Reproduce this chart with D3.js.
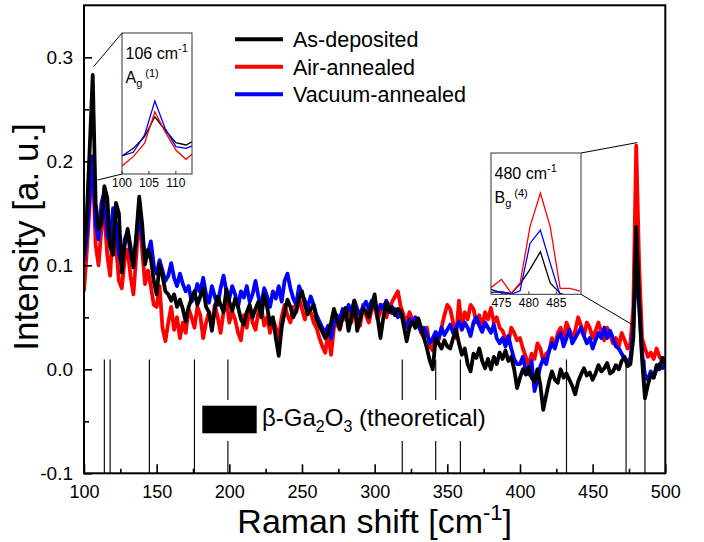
<!DOCTYPE html>
<html>
<head>
<meta charset="utf-8">
<script src="https://cdn.jsdelivr.net/npm/d3@7"></script>
<style>
  html, body { margin: 0; padding: 0; background: #fff; }
  svg { display: block; font-family: "Liberation Sans", Arial, sans-serif; }
</style>
</head>
<body>
<svg id="chart" width="704" height="542"></svg>
<script>
// Raman shift grid (cm^-1), one sample every 2 cm^-1
const shift = d3.range(100, 501, 2);

const asDeposited = [
  0.110, 0.150, 0.215, 0.283, 0.160, 0.135, 0.140, 0.176, 0.165, 0.118,
  0.110, 0.160, 0.150, 0.093, 0.120, 0.135, 0.118, 0.098, 0.130, 0.166,
  0.140, 0.101, 0.115, 0.106, 0.085, 0.072, 0.101, 0.090, 0.075, 0.072,
  0.066, 0.072, 0.060, 0.067, 0.058, 0.046, 0.060, 0.068, 0.075, 0.062,
  0.070, 0.078, 0.060, 0.055, 0.037, 0.058, 0.070, 0.062, 0.055, 0.077,
  0.065, 0.056, 0.068, 0.060, 0.048, 0.043, 0.055, 0.062, 0.050, 0.058,
  0.065, 0.050, 0.072, 0.060, 0.043, 0.050, 0.030, 0.013, 0.040, 0.055,
  0.067, 0.060, 0.050, 0.056, 0.068, 0.075, 0.062, 0.053, 0.058, 0.062,
  0.048, 0.042, 0.036, 0.030, 0.034, 0.045, 0.058, 0.048, 0.039, 0.050,
  0.059, 0.037, 0.050, 0.066, 0.037, 0.048, 0.058, 0.056, 0.050, 0.062,
  0.072, 0.050, 0.030, 0.050, 0.064, 0.055, 0.060, 0.052, 0.058, 0.056,
  0.042, 0.027, 0.040, 0.046, 0.040, 0.049, 0.040, 0.030, 0.020, 0.008,
  0.000, 0.030, 0.025, 0.020, 0.028, 0.022, 0.020, 0.030, 0.038, 0.025,
  0.014, 0.020, 0.005, -0.002, 0.015, 0.011, 0.020, 0.008, 0.001, 0.010,
  0.000, 0.012, 0.005, 0.016, 0.010, 0.018, 0.008, 0.012, 0.000, -0.018,
  -0.008, 0.000, -0.005, 0.002, -0.008, -0.012, 0.000, -0.015, -0.039, -0.025,
  -0.012, -0.002, -0.010, -0.013, 0.000, -0.008, -0.004, -0.010, -0.016, -0.024,
  -0.012, -0.005, 0.001, -0.006, -0.003, -0.010, -0.004, 0.004, -0.002, 0.001,
  0.006, -0.004, -0.002, 0.004, 0.000, 0.008, 0.012, 0.003, 0.005, 0.030,
  0.137, 0.065, 0.010, -0.028, -0.015, -0.005, -0.008, 0.004, 0.000, 0.011,
  0.005
];

const airAnnealed = [
  0.075, 0.115, 0.160, 0.200, 0.120, 0.100, 0.135, 0.150, 0.110, 0.090,
  0.140, 0.120, 0.085, 0.078, 0.105, 0.115, 0.090, 0.072, 0.110, 0.150,
  0.115, 0.082, 0.095, 0.080, 0.062, 0.060, 0.080, 0.040, 0.027, 0.045,
  0.060, 0.038, 0.050, 0.030, 0.045, 0.035, 0.058, 0.050, 0.040, 0.060,
  0.052, 0.030, 0.045, 0.055, 0.042, 0.062, 0.050, 0.035, 0.055, 0.068,
  0.045, 0.055, 0.048, 0.035, 0.028, 0.052, 0.040, 0.060, 0.045, 0.038,
  0.055, 0.060, 0.042, 0.050, 0.035, 0.048, 0.040, 0.030, 0.050, 0.062,
  0.052, 0.045, 0.060, 0.055, 0.068, 0.058, 0.048, 0.060, 0.055, 0.045,
  0.040, 0.030, 0.022, 0.016, 0.035, 0.014, 0.040, 0.045, 0.038, 0.052,
  0.048, 0.060, 0.045, 0.058, 0.050, 0.042, 0.062, 0.052, 0.045, 0.058,
  0.060, 0.048, 0.055, 0.062, 0.050, 0.058, 0.065, 0.070, 0.075, 0.060,
  0.052, 0.045, 0.055, 0.048, 0.040, 0.046, 0.035, 0.030, 0.040, 0.022,
  0.018, 0.035, 0.028, 0.040, 0.052, 0.062, 0.058, 0.045, 0.030, 0.066,
  0.040, 0.055, 0.048, 0.062, 0.058, 0.045, 0.052, 0.040, 0.055, 0.048,
  0.059, 0.045, 0.050, 0.040, 0.037, 0.030, 0.025, 0.040, 0.035, 0.028,
  0.030, 0.020, 0.012, 0.003, 0.015, 0.010, 0.025, 0.020, 0.008, 0.015,
  0.017, 0.030, 0.022, 0.035, 0.040, 0.028, 0.045, 0.038, 0.030, 0.037,
  0.050, 0.042, 0.032, 0.045, 0.040, 0.030, 0.037, 0.045, 0.035, 0.028,
  0.040, 0.033, 0.025, 0.030, 0.022, 0.035, 0.028, 0.020, 0.025, 0.060,
  0.215, 0.100, 0.030, 0.020, 0.012, 0.016, 0.010, 0.020, 0.012, 0.008,
  0.011
];

const vacuumAnnealed = [
  0.105, 0.130, 0.170, 0.205, 0.140, 0.125, 0.160, 0.170, 0.130, 0.120,
  0.155, 0.140, 0.110, 0.100, 0.125, 0.132, 0.112, 0.100, 0.125, 0.150,
  0.128, 0.105, 0.112, 0.123, 0.100, 0.092, 0.105, 0.095, 0.085, 0.090,
  0.102, 0.088, 0.080, 0.092, 0.082, 0.075, 0.080, 0.065, 0.070, 0.082,
  0.074, 0.088, 0.072, 0.064, 0.080, 0.070, 0.062, 0.078, 0.090, 0.075,
  0.068, 0.080, 0.072, 0.060, 0.075, 0.069, 0.080, 0.065, 0.072, 0.085,
  0.070, 0.062, 0.078, 0.070, 0.060, 0.075, 0.068, 0.080, 0.065, 0.085,
  0.092, 0.078, 0.068, 0.062, 0.080, 0.072, 0.066, 0.060, 0.070, 0.062,
  0.052, 0.046, 0.040, 0.035, 0.042, 0.030, 0.045, 0.052, 0.048, 0.058,
  0.050, 0.062, 0.055, 0.066, 0.058, 0.052, 0.060, 0.065, 0.058, 0.066,
  0.060, 0.055, 0.062, 0.058, 0.066, 0.060, 0.054, 0.058, 0.050, 0.055,
  0.046, 0.040, 0.048, 0.044, 0.050, 0.042, 0.036, 0.040, 0.034, 0.025,
  0.030, 0.036, 0.030, 0.040, 0.033, 0.038, 0.043, 0.035, 0.040, 0.046,
  0.038, 0.045, 0.040, 0.032, 0.045, 0.050, 0.042, 0.036, 0.045, 0.040,
  0.035, 0.043, 0.030, 0.025, 0.030, 0.022, 0.032, 0.020, 0.010, 0.005,
  0.005, 0.012, -0.002, -0.005, 0.008, -0.021, -0.010, 0.003, 0.010, 0.005,
  0.018, 0.025, 0.020, 0.030, 0.035, 0.022, 0.030, 0.038, 0.025, 0.030,
  0.035, 0.040, 0.032, 0.025, 0.030, 0.020, 0.028, 0.035, 0.030, 0.040,
  0.030, 0.037, 0.030, 0.022, 0.020, 0.015, 0.010, 0.008, 0.010, 0.040,
  0.105, 0.060, 0.015, -0.005, -0.010, -0.002, -0.008, 0.000, 0.005, 0.001,
  0.004
];

// Calculated β-Ga2O3 phonon positions (cm^-1)
const theoreticalModes = [114, 118, 145, 176, 199, 319, 342, 359, 432, 473, 486];

// Close-up of the 106 cm^-1 Ag(1) mode (normalised)
const zoomAgShift = [100, 102.1, 104.2, 106.1, 108, 110, 111.9, 113];
const zoomAgAsDep = [0.128, 0.182, 0.265, 0.406, 0.312, 0.222, 0.206, 0.229];
const zoomAgAir   = [0.057, 0.123, 0.218, 0.442, 0.300, 0.170, 0.104, 0.140];
const zoomAgVac   = [0.128, 0.154, 0.277, 0.518, 0.324, 0.194, 0.182, 0.199];

// Close-up of the 480 cm^-1 Bg(4) mode (normalised)
const zoomBgShift = [473.1, 475, 476.8, 478.4, 480.2, 482.1, 483.9, 485.7, 487.5, 489.3];
const zoomBgAsDep = [0.035, 0.011, 0.007, 0.073, 0.177, 0.301, 0.078, 0.007, -0.020, -0.030];
const zoomBgAir   = [0.047, 0.106, 0.007, 0.078, 0.477, 0.717, 0.477, 0.042, 0.042, 0.022];
const zoomBgVac   = [0.014, 0.018, 0.002, 0.025, 0.360, 0.454, 0.219, -0.010, -0.030, -0.030];

const xTicks = [100, 150, 200, 250, 300, 350, 400, 450, 500];
const xMinorTicks = [125, 175, 225, 275, 325, 375, 425, 475];
const yTicks = [-0.1, 0.0, 0.1, 0.2, 0.3];
const yMinorTicks = [-0.05, 0.05, 0.15, 0.25];

const seriesNames = ["As-deposited", "Air-annealed", "Vacuum-annealed"];
const seriesColors = ["#000000", "#ff0000", "#0000ff"];

const svg = d3.select("#chart");
svg.append("rect").attr("width", 704).attr("height", 542).attr("fill", "#fff");

const plot = { left: 84, right: 665.3, top: 5.3, bottom: 473.3 };
const x = d3.scaleLinear().domain([100, 500]).range([plot.left, plot.right]);
const y = d3.scaleLinear().domain([-0.1, 0.35]).range([plot.bottom, plot.top]);

svg.append("clipPath").attr("id", "plotClip")
  .append("rect")
  .attr("x", plot.left).attr("y", plot.top)
  .attr("width", plot.right - plot.left).attr("height", plot.bottom - plot.top);

// theoretical mode sticks
svg.append("g").selectAll("line").data(theoreticalModes).join("line")
  .attr("x1", d => x(d)).attr("x2", d => x(d))
  .attr("y1", y(0.0095)).attr("y2", y(-0.1))
  .attr("stroke", "#111").attr("stroke-width", 1.2);

// label for the theoretical sticks
const theo = svg.append("g");
theo.append("rect").attr("x", 198).attr("y", 400).attr("width", 298).attr("height", 41).attr("fill", "#fff");
theo.append("rect").attr("x", 202.3).attr("y", 405.7).attr("width", 54.4).attr("height", 27.6).attr("fill", "#000");
const theoText = theo.append("text").attr("x", 262).attr("y", 426)
  .attr("font-size", 24).attr("fill", "#000");
theoText.append("tspan").text("β-Ga");
theoText.append("tspan").attr("font-size", 16).attr("dy", 6).text("2");
theoText.append("tspan").attr("dy", -6).text("O");
theoText.append("tspan").attr("font-size", 16).attr("dy", 6).text("3");
theoText.append("tspan").attr("dy", -6).text(" (theoretical)");

// spectra
const line = d3.line().x(d => x(d[0])).y(d => y(d[1]));
const spectra = [airAnnealed, vacuumAnnealed, asDeposited];
const spectraColors = [seriesColors[1], seriesColors[2], seriesColors[0]];
const dataG = svg.append("g").attr("clip-path", "url(#plotClip)");
spectra.forEach((vals, i) => {
  dataG.append("path")
    .datum(shift.map((s, j) => [s, vals[j]]))
    .attr("d", line)
    .attr("fill", "none")
    .attr("stroke", spectraColors[i])
    .attr("stroke-width", 3.8)
    .attr("stroke-linejoin", "round");
});

// axes
const fmt = d => d.toFixed(1);
const xAxis = svg.append("g").attr("transform", `translate(0,${plot.bottom})`)
  .call(d3.axisBottom(x).tickValues(xTicks).tickSizeInner(-9).tickSizeOuter(0).tickPadding(11.5).tickFormat(d3.format("d")));
const xMinor = svg.append("g").attr("transform", `translate(0,${plot.bottom})`)
  .call(d3.axisBottom(x).tickValues(xMinorTicks).tickSizeInner(-4.5).tickSizeOuter(0).tickFormat(""));
const yAxis = svg.append("g").attr("transform", `translate(${plot.left},0)`)
  .call(d3.axisLeft(y).tickValues(yTicks).tickSizeInner(-8).tickSizeOuter(0).tickPadding(11).tickFormat(fmt));
const yMinor = svg.append("g").attr("transform", `translate(${plot.left},0)`)
  .call(d3.axisLeft(y).tickValues(yMinorTicks).tickSizeInner(-5).tickSizeOuter(0).tickFormat(""));
xMinor.selectAll("text").remove();
yMinor.selectAll("text").remove();
svg.selectAll(".domain").remove();
svg.selectAll(".tick line").attr("stroke", "#000").attr("stroke-width", 1.6);
xAxis.selectAll("text").attr("font-size", 18).attr("fill", "#000").style("font-family", "'Liberation Sans', Arial, sans-serif");
yAxis.selectAll("text").attr("font-size", 19).attr("fill", "#000").style("font-family", "'Liberation Sans', Arial, sans-serif");

// frame
svg.append("rect")
  .attr("x", plot.left).attr("y", plot.top)
  .attr("width", plot.right - plot.left).attr("height", plot.bottom - plot.top)
  .attr("fill", "none").attr("stroke", "#000").attr("stroke-width", 2);

// axis titles
const xTitle = svg.append("text").attr("x", (plot.left + plot.right) / 2).attr("y", 533)
  .attr("text-anchor", "middle").attr("font-size", 34).attr("fill", "#000");
xTitle.append("tspan").text("Raman shift [cm");
xTitle.append("tspan").attr("font-size", 22).attr("dy", -13).text("-1");
xTitle.append("tspan").attr("dy", 13).text("]");

svg.append("text").attr("transform", "translate(38,237) rotate(-90)")
  .attr("text-anchor", "middle").attr("font-size", 35).attr("fill", "#000")
  .text("Intensity [a. u.]");

// legend
const legend = svg.append("g");
seriesNames.forEach((name, i) => {
  const ly = 39.3 + i * 27.5;
  legend.append("line").attr("x1", 235).attr("x2", 283).attr("y1", ly).attr("y2", ly)
    .attr("stroke", seriesColors[i]).attr("stroke-width", 4);
  legend.append("text").attr("x", 293).attr("y", ly).attr("dy", "0.36em")
    .attr("font-size", 21.5).attr("fill", "#000").text(name);
});

// close-up panels
function closeUp(cfg) {
  const g = svg.append("g");
  const ix = d3.scaleLinear().domain(cfg.xDomain).range([cfg.left, cfg.right]);
  const iy = d3.scaleLinear().domain([0, 1]).range([cfg.bottom, cfg.top]);
  // connectors to the main peak
  cfg.links.forEach(l => {
    g.append("line").attr("x1", l[0]).attr("y1", l[1]).attr("x2", l[2]).attr("y2", l[3])
      .attr("stroke", "#000").attr("stroke-width", 1);
  });
  g.append("rect").attr("x", cfg.left).attr("y", cfg.top)
    .attr("width", cfg.right - cfg.left).attr("height", cfg.bottom - cfg.top)
    .attr("fill", "#fff");
  g.append("clipPath").attr("id", cfg.id).append("rect")
    .attr("x", cfg.left).attr("y", cfg.top)
    .attr("width", cfg.right - cfg.left).attr("height", cfg.bottom - cfg.top);
  const lg = g.append("g").attr("clip-path", `url(#${cfg.id})`);
  const il = d3.line().x(d => ix(d[0])).y(d => iy(d[1]));
  cfg.series.forEach(s => {
    lg.append("path").datum(cfg.shift.map((v, j) => [v, s.vals[j]]))
      .attr("d", il).attr("fill", "none").attr("stroke", s.color).attr("stroke-width", 1.3);
  });
  g.append("rect").attr("x", cfg.left).attr("y", cfg.top)
    .attr("width", cfg.right - cfg.left).attr("height", cfg.bottom - cfg.top)
    .attr("fill", "none").attr("stroke", "#333").attr("stroke-width", 1);
  cfg.ticks.forEach(t => {
    g.append("line").attr("x1", ix(t)).attr("x2", ix(t))
      .attr("y1", cfg.bottom).attr("y2", cfg.bottom - 3)
      .attr("stroke", "#333").attr("stroke-width", 1);
    g.append("text").attr("x", ix(t)).attr("y", cfg.bottom + 13)
      .attr("text-anchor", "middle").attr("font-size", 12).attr("fill", "#000").text(t);
  });
  const t1 = g.append("text").attr("x", cfg.left + 3.5).attr("y", cfg.top + 26)
    .attr("font-size", 16).attr("fill", "#000");
  t1.append("tspan").text(cfg.wave + " cm");
  t1.append("tspan").attr("font-size", 11).attr("dy", -7).text("-1");
  const t2 = g.append("text").attr("x", cfg.left + 3.5).attr("y", cfg.top + 50)
    .attr("font-size", 16).attr("fill", "#000");
  t2.append("tspan").text(cfg.mode);
  t2.append("tspan").attr("font-size", 11).attr("dy", 4).text("g");
  t2.append("tspan").attr("font-size", 11).attr("dy", -10).attr("dx", 3).text(cfg.order);
}

closeUp({
  id: "clipAg", left: 122, right: 192, top: 33, bottom: 174,
  xDomain: [100, 113], shift: zoomAgShift, ticks: [100, 105, 110],
  wave: "106", mode: "A", order: "(1)",
  links: [[x(106.6), y(0.291), 122, 33], [x(109.3), y(0.182), 122, 174]],
  series: [
    { vals: zoomAgAsDep, color: seriesColors[0] },
    { vals: zoomAgAir, color: seriesColors[1] },
    { vals: zoomAgVac, color: seriesColors[2] }
  ]
});

closeUp({
  id: "clipBg", left: 491, right: 581, top: 153, bottom: 294.3,
  xDomain: [473.1, 489.5], shift: zoomBgShift, ticks: [475, 480, 485],
  wave: "480", mode: "B", order: "(4)",
  links: [[581, 153, x(480.7), y(0.218)], [581, 294.3, x(477.2), y(0.043)]],
  series: [
    { vals: zoomBgAsDep, color: seriesColors[0] },
    { vals: zoomBgAir, color: seriesColors[1] },
    { vals: zoomBgVac, color: seriesColors[2] }
  ]
});
</script>
</body>
</html>
